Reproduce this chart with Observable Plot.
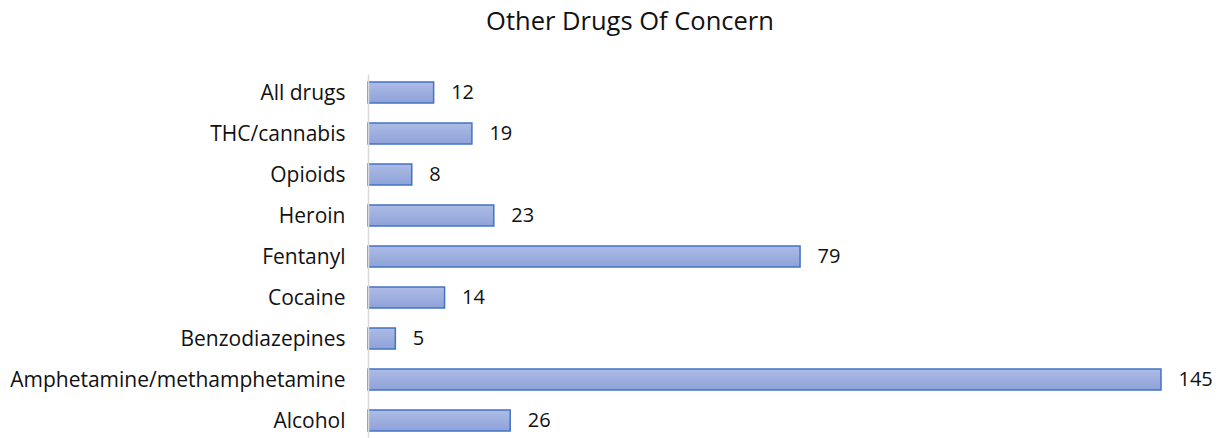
<!DOCTYPE html>
<html>
<head>
<meta charset="utf-8">
<script src="https://cdn.jsdelivr.net/npm/d3@7"></script>
<script src="https://cdn.jsdelivr.net/npm/@observablehq/plot@0.6"></script>
<style>
  html, body { margin: 0; padding: 0; background: #fff; }
  #title { height: 50px; width: 1222px; font-family: "Open Sans", sans-serif; font-size: 25.5px; color: #111;
           text-align: center; box-sizing: border-box; padding-top: 3px; padding-left: 38px; }
  #chart svg { display: block; }
</style>
</head>
<body>
<div id="title">Other Drugs Of Concern</div>
<div id="chart"></div>
<script>
const categories = ["All drugs", "THC/cannabis", "Opioids", "Heroin", "Fentanyl", "Cocaine", "Benzodiazepines", "Amphetamine/methamphetamine", "Alcohol"];
const values = [12, 19, 8, 23, 79, 14, 5, 145, 26];

const data = categories.map((c, i) => ({category: c, value: values[i]}));

const chart = Plot.plot({
  width: 1222,
  height: 388,
  marginLeft: 368,
  marginRight: 61,
  marginTop: 24.5,
  marginBottom: 0.5,
  style: {fontFamily: "'Open Sans', sans-serif", fontSize: "21px", color: "#111", background: "#fff"},
  x: {domain: [0, 145], axis: null},
  y: {domain: categories, paddingInner: 0.5, paddingOuter: 0.15, label: null, tickSize: 0, tickPadding: 23},
  marks: [
    Plot.barX(data, {y: "category", x: "value", fill: "url(#barGrad)", stroke: "#4472c4", strokeWidth: 1.5}),
    Plot.ruleX([0], {stroke: "#d9d9d9", strokeWidth: 1.5}),
    Plot.text(data, {y: "category", x: "value", text: d => String(d.value), textAnchor: "start", dx: 17, fontSize: 20, fill: "#111"})
  ]
});

const svgNS = "http://www.w3.org/2000/svg";
const defs = document.createElementNS(svgNS, "defs");
defs.innerHTML = '<linearGradient id="barGrad" x1="0" y1="0" x2="0" y2="1"><stop offset="0" stop-color="#adbce6"/><stop offset="1" stop-color="#8ea2d9"/></linearGradient>';
chart.insertBefore(defs, chart.firstChild);
document.getElementById("chart").appendChild(chart);
</script>
</body>
</html>
